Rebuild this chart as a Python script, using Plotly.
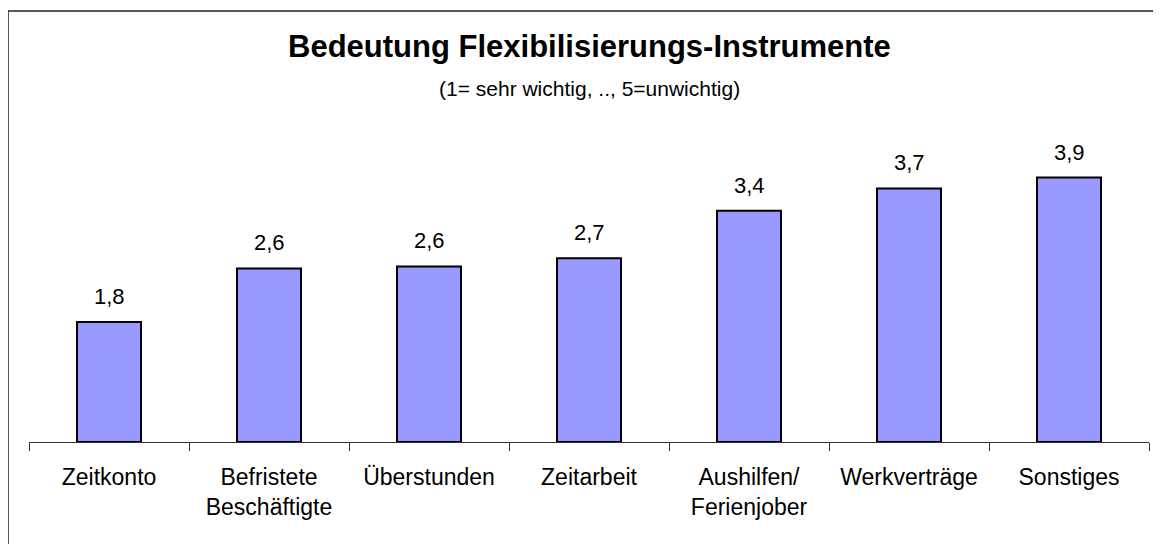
import plotly.graph_objects as go

categories = ["Zeitkonto", "Befristete<br>Beschäftigte", "Überstunden", "Zeitarbeit",
              "Aushilfen/<br>Ferienjober", "Werkverträge", "Sonstiges"]
values = [1.77, 2.56, 2.59, 2.71, 3.41, 3.74, 3.90]
labels = [f"{v:.1f}".replace(".", ",") for v in values]

title_text = "Bedeutung Flexibilisierungs-Instrumente"
subtitle_text = "(1= sehr wichtig, .., 5=unwichtig)"

FONT = "Liberation Sans, Arial, sans-serif"

fig = go.Figure()
fig.add_trace(go.Bar(
    x=categories, y=values, width=0.4,
    marker=dict(color="#9999FF", line=dict(color="#000000", width=2)),
    hoverinfo="skip",
))

for c, v, t in zip(categories, values, labels):
    fig.add_annotation(x=c, y=v, text=t, showarrow=False, yanchor="bottom",
                       yshift=11, font=dict(family=FONT, size=22, color="#000"))

fig.add_annotation(xref="paper", yref="paper", x=0.5, y=1.1653, text="<b>" + title_text + "</b>",
                   showarrow=False, yanchor="middle", font=dict(family=FONT, size=31, color="#000"))
fig.add_annotation(xref="paper", yref="paper", x=0.5, y=1.0413, text=subtitle_text,
                   showarrow=False, yanchor="middle", font=dict(family=FONT, size=21, color="#000"))

fig.add_shape(type="rect", xref="paper", yref="paper", x0=-0.01875, y0=-1.0, x1=1.2, y1=1.2716,
              line=dict(color="#222", width=1.5), fillcolor="rgba(0,0,0,0)", layer="above")

fig.update_layout(
    width=1153, height=536,
    margin=dict(l=21, r=12, t=95, b=102),
    paper_bgcolor="white", plot_bgcolor="white",
    showlegend=False,
    bargap=0.6,
    font=dict(family=FONT, color="#000"),
)
fig.update_xaxes(
    showline=True, linecolor="#333", linewidth=1,
    ticks="outside", tickson="boundaries", ticklen=8, tickcolor="#333", tickwidth=1,
    tickfont=dict(family=FONT, size=23, color="#000"),
    ticklabelstandoff=14,
    showgrid=False, zeroline=False, fixedrange=True,
)
fig.update_yaxes(range=[0, 5], visible=False, showgrid=False, zeroline=False, fixedrange=True)

fig.write_html("out.html")
